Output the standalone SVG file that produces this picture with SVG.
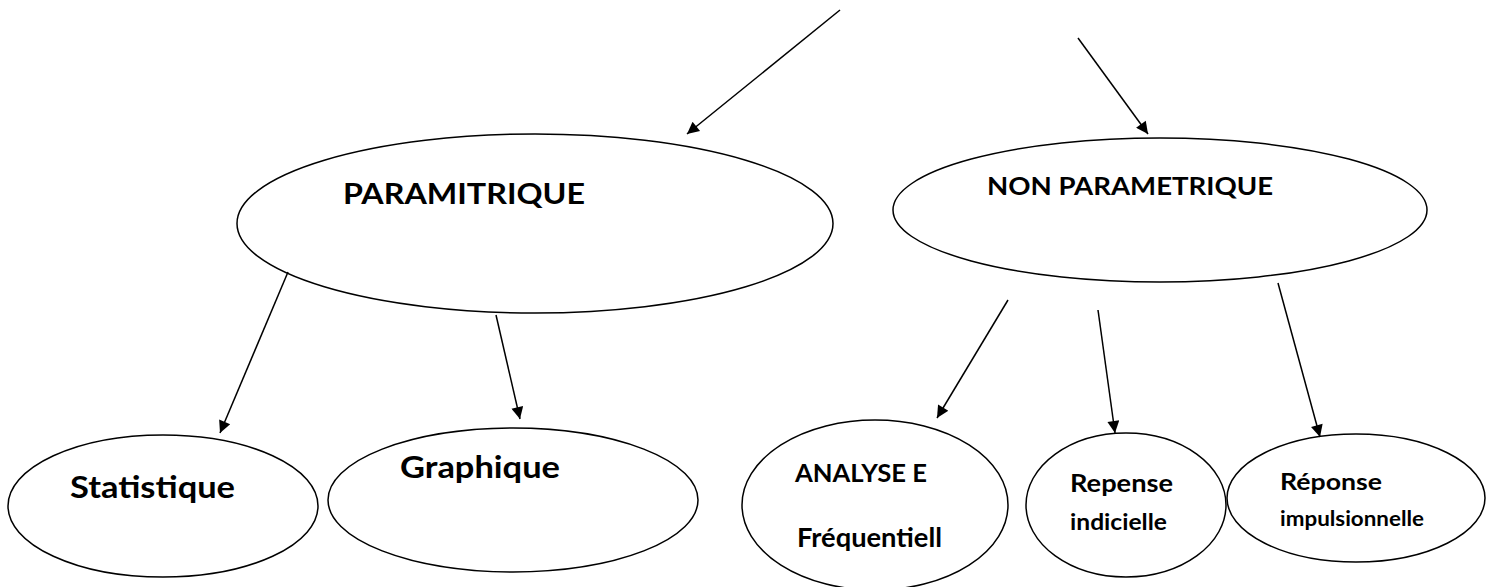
<svg xmlns="http://www.w3.org/2000/svg" width="1497" height="587" viewBox="0 0 1497 587">
  <style>
    .node ellipse { fill: #ffffff; stroke: #000000; stroke-width: 1.5; }
    .node text { font-family: Lato, "Open Sans", "Liberation Sans", sans-serif; font-weight: bold; fill: #000000; }
    .edge { stroke: #000000; stroke-width: 1.5; fill: none; marker-end: url(#arrow); }
  </style>
  <defs>
    <marker id="arrow" viewBox="0 0 10 10" refX="10" refY="5" markerWidth="17" markerHeight="12" markerUnits="userSpaceOnUse" orient="auto">
      <path d="M0,0 L10,5 L0,10 Z" fill="#000000"/>
    </marker>
  </defs>

  <g id="parametrique" class="node">
    <ellipse cx="535" cy="223.5" rx="298" ry="89.5"/>
    <text x="343" y="204" font-size="29" textLength="242" lengthAdjust="spacingAndGlyphs">PARAMITRIQUE</text>
  </g>

  <g id="non-parametrique" class="node">
    <ellipse cx="1160" cy="210" rx="267" ry="72"/>
    <text x="987" y="195" font-size="25" textLength="286" lengthAdjust="spacingAndGlyphs">NON PARAMETRIQUE</text>
  </g>

  <g id="statistique" class="node">
    <ellipse cx="163" cy="506" rx="155" ry="71"/>
    <text x="70" y="498" font-size="31" textLength="165" lengthAdjust="spacingAndGlyphs">Statistique</text>
  </g>

  <g id="graphique" class="node">
    <ellipse cx="513" cy="500" rx="185" ry="72"/>
    <text x="400" y="478" font-size="31" textLength="160" lengthAdjust="spacingAndGlyphs">Graphique</text>
  </g>

  <g id="analyse-frequentielle" class="node">
    <ellipse cx="875" cy="505" rx="133" ry="85"/>
    <text x="795" y="482" font-size="25" textLength="132" lengthAdjust="spacingAndGlyphs">ANALYSE E</text>
    <text x="797" y="547" font-size="27" textLength="145" lengthAdjust="spacingAndGlyphs">Fréquentiell</text>
  </g>

  <g id="reponse-indicielle" class="node">
    <ellipse cx="1126" cy="505" rx="100" ry="72"/>
    <text x="1070" y="492" font-size="25" textLength="103" lengthAdjust="spacingAndGlyphs">Repense</text>
    <text x="1070" y="530" font-size="22" textLength="97" lengthAdjust="spacingAndGlyphs">indicielle</text>
  </g>

  <g id="reponse-impulsionnelle" class="node">
    <ellipse cx="1356" cy="498" rx="129" ry="64"/>
    <text x="1280" y="490" font-size="22" textLength="102" lengthAdjust="spacingAndGlyphs">Réponse</text>
    <text x="1280" y="526" font-size="20" textLength="144" lengthAdjust="spacingAndGlyphs">impulsionnelle</text>
  </g>

  <!-- connectors drawn last so arrowheads sit on top of the ellipse outlines -->
  <g id="connectors">
    <line class="edge" x1="840" y1="10" x2="687" y2="134"/>
    <line class="edge" x1="1078" y1="38" x2="1148" y2="134"/>
    <line class="edge" x1="288" y1="272" x2="220" y2="433"/>
    <line class="edge" x1="496" y1="315" x2="520" y2="419"/>
    <line class="edge" x1="1008" y1="300" x2="937" y2="418"/>
    <line class="edge" x1="1098" y1="310" x2="1115" y2="433"/>
    <line class="edge" x1="1278" y1="283" x2="1320" y2="437"/>
  </g>
</svg>
